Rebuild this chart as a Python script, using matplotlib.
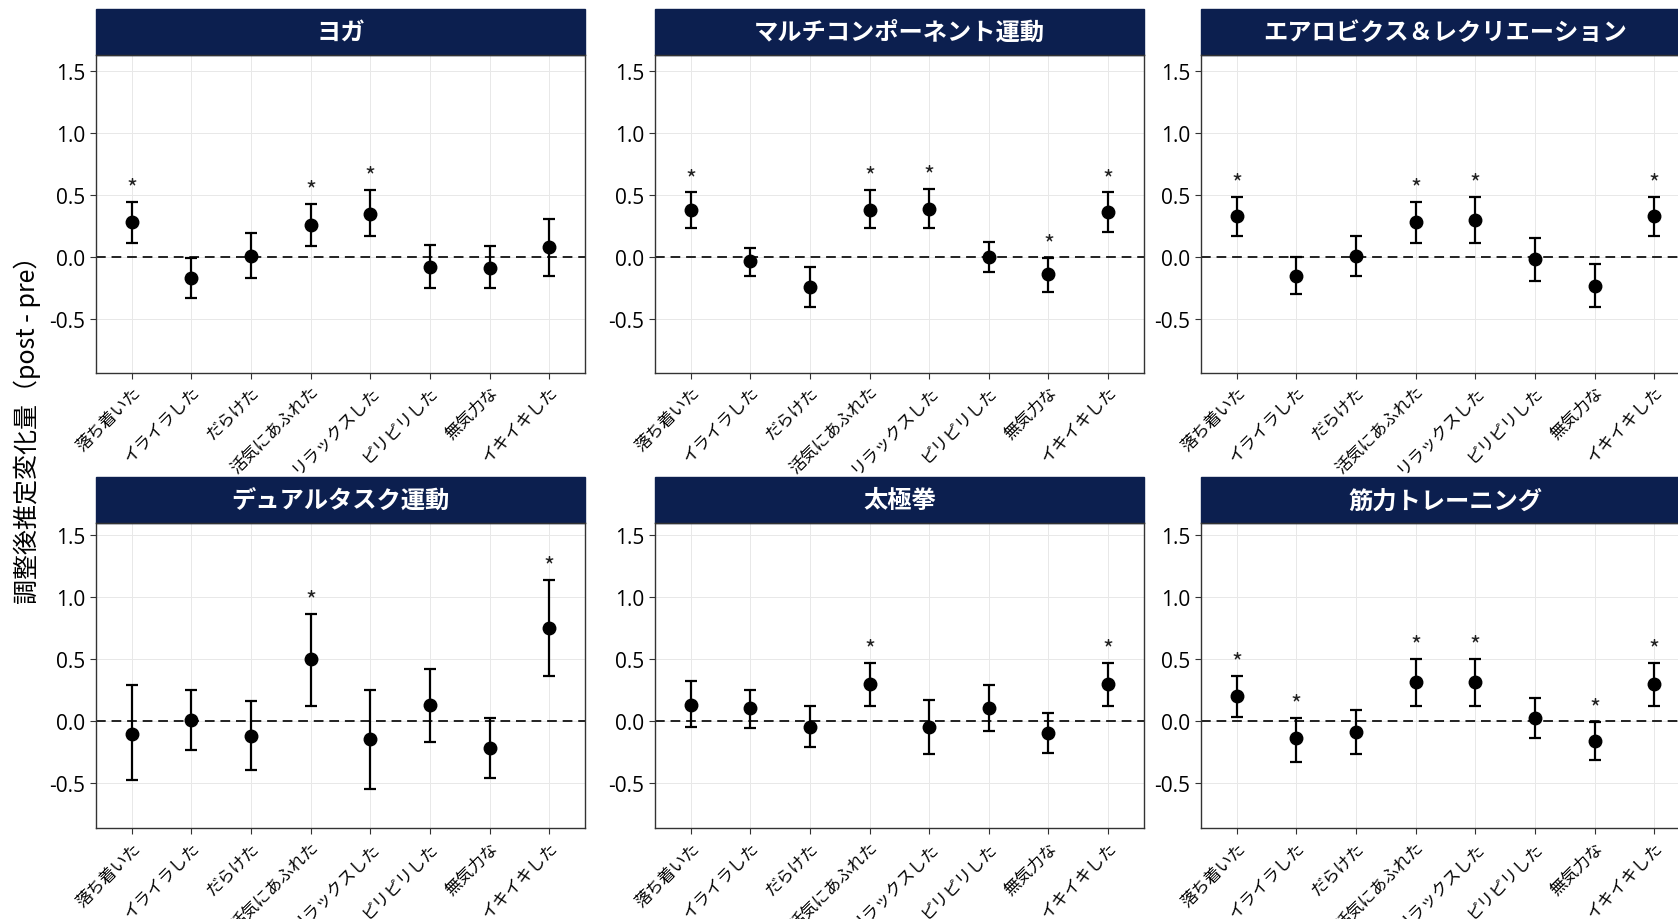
import numpy as np
import matplotlib
matplotlib.use("Agg")
import matplotlib.pyplot as plt
from matplotlib.patches import Rectangle

plt.rcParams['font.family'] = ['Noto Sans CJK JP', 'DejaVu Sans']

moods = ["落ち着いた", "イライラした", "だらけた", "活気にあふれた",
         "リラックスした", "ピリピリした", "無気力な", "イキイキした"]

titles = ["ヨガ", "マルチコンポーネント運動", "エアロビクス＆レクリエーション",
          "デュアルタスク運動", "太極拳", "筋力トレーニング"]

# estimate, lower CI, upper CI, significant (*)
yoga_est = [0.28, -0.17, 0.01, 0.26, 0.35, -0.08, -0.09, 0.08]
yoga_lo = [0.11, -0.33, -0.17, 0.09, 0.17, -0.25, -0.25, -0.15]
yoga_hi = [0.44, -0.01, 0.19, 0.43, 0.54, 0.10, 0.09, 0.31]
yoga_sig = [1, 0, 0, 1, 1, 0, 0, 0]

multi_est = [0.38, -0.03, -0.24, 0.38, 0.39, 0.00, -0.14, 0.36]
multi_lo = [0.23, -0.15, -0.40, 0.23, 0.23, -0.12, -0.28, 0.20]
multi_hi = [0.52, 0.07, -0.08, 0.54, 0.55, 0.12, -0.01, 0.52]
multi_sig = [1, 0, 0, 1, 1, 0, 1, 1]

aero_est = [0.33, -0.15, 0.01, 0.28, 0.30, -0.02, -0.23, 0.33]
aero_lo = [0.17, -0.30, -0.15, 0.11, 0.11, -0.19, -0.40, 0.17]
aero_hi = [0.48, 0.00, 0.17, 0.44, 0.48, 0.15, -0.06, 0.48]
aero_sig = [1, 0, 0, 1, 1, 0, 0, 1]

dual_est = [-0.11, 0.01, -0.12, 0.50, -0.15, 0.13, -0.22, 0.75]
dual_lo = [-0.48, -0.24, -0.40, 0.12, -0.55, -0.17, -0.46, 0.36]
dual_hi = [0.29, 0.25, 0.16, 0.86, 0.25, 0.42, 0.02, 1.14]
dual_sig = [0, 0, 0, 1, 0, 0, 0, 1]

taichi_est = [0.13, 0.10, -0.05, 0.30, -0.05, 0.10, -0.10, 0.30]
taichi_lo = [-0.05, -0.06, -0.21, 0.12, -0.27, -0.08, -0.26, 0.12]
taichi_hi = [0.32, 0.25, 0.12, 0.47, 0.17, 0.29, 0.06, 0.47]
taichi_sig = [0, 0, 0, 1, 0, 0, 0, 1]

strength_est = [0.20, -0.14, -0.09, 0.31, 0.31, 0.02, -0.16, 0.30]
strength_lo = [0.03, -0.33, -0.27, 0.12, 0.12, -0.14, -0.32, 0.12]
strength_hi = [0.36, 0.02, 0.09, 0.50, 0.50, 0.18, -0.01, 0.47]
strength_sig = [1, 1, 0, 1, 1, 0, 1, 1]

panels = [
    (yoga_est, yoga_lo, yoga_hi, yoga_sig),
    (multi_est, multi_lo, multi_hi, multi_sig),
    (aero_est, aero_lo, aero_hi, aero_sig),
    (dual_est, dual_lo, dual_hi, dual_sig),
    (taichi_est, taichi_lo, taichi_hi, taichi_sig),
    (strength_est, strength_lo, strength_hi, strength_sig),
]

navy = "#0c1f4f"
fig = plt.figure(figsize=(16.78, 9.2), dpi=100)

lefts = [0.0572, 0.3903, 0.7157]
width = 0.2914
rows = [(0.594, 0.3456, (-0.93, 1.63)), (0.0985, 0.3315, (-0.87, 1.595))]
strip_px = 46

x = np.arange(len(moods))
for k, (est, lo, hi, sig) in enumerate(panels):
    bottom, height, ylim = rows[k // 3]
    ax = fig.add_axes([lefts[k % 3], bottom, width, height])
    est = np.array(est)
    lo = np.array(lo)
    hi = np.array(hi)

    ax.grid(True, color="#e8e8e8", lw=0.7)
    ax.set_axisbelow(True)
    ax.axhline(0, color="#222222", ls=(0, (5, 3)), lw=1.4, zorder=1)
    ax.errorbar(x, est, yerr=[est - lo, hi - est], fmt="o", color="black",
                ms=9, elinewidth=1.6, capsize=4.5, capthick=1.6, zorder=3)
    for i in range(len(moods)):
        if sig[i]:
            ax.text(x[i], hi[i] + 0.02, "*", ha="center", va="bottom",
                    fontsize=17, color="#222222")

    ax.set_xlim(-0.6, 7.6)
    ax.set_ylim(*ylim)
    ax.set_yticks([-0.5, 0.0, 0.5, 1.0, 1.5])
    ax.set_yticklabels(["-0.5", "0.0", "0.5", "1.0", "1.5"], fontsize=15,
                       family=["Open Sans", "DejaVu Sans"])
    ax.set_xticks(x)
    ax.set_xticklabels(moods, rotation=45, ha="right", rotation_mode="anchor",
                       fontsize=12)
    ax.tick_params(length=4, color="#333333")
    for s in ax.spines.values():
        s.set_color("#333333")
        s.set_linewidth(1.0)

    # title strip
    sh = strip_px / (height * 920)
    ax.add_patch(Rectangle((0, 1.0), 1, sh, transform=ax.transAxes,
                           facecolor=navy, edgecolor=navy, clip_on=False))
    ax.text(0.5, 1.0 + sh / 2, titles[k], transform=ax.transAxes, ha="center",
            va="center", color="white", fontsize=17.5, fontweight="bold")

fig.text(0.016, 0.539, "調整後推定変化量（post - pre）", rotation=90,
         ha="center", va="center", fontsize=18)

fig.savefig("out.png", dpi=100)
